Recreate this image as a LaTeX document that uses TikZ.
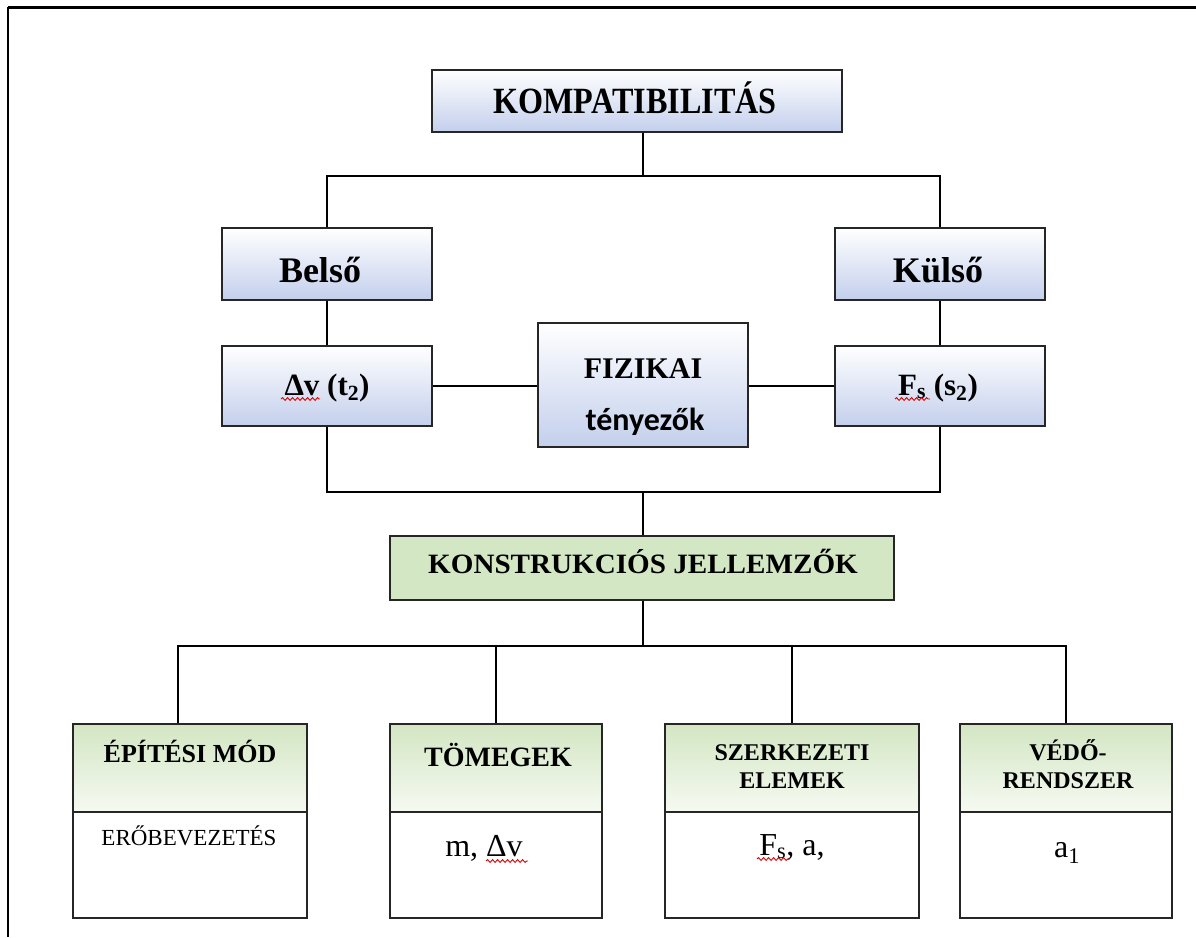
\documentclass[tikz,border=0pt]{standalone}
\usepackage{fontspec}
\setmainfont{Liberation Serif}
\newfontfamily\carl{Carlito}
\usepackage{graphicx}
\usetikzlibrary{decorations.pathmorphing}
\definecolor{bluebot}{HTML}{C3CFEC}
\definecolor{greentop}{HTML}{D3E6C3}
\definecolor{greenfill}{HTML}{D4E7C5}
\definecolor{greenbot}{HTML}{F6FAF2}
\definecolor{edge}{HTML}{262626}
\newcommand\fsz[2]{\fontsize{#1}{#2}\selectfont}
\begin{document}
\begin{tikzpicture}[x=1pt,y=-1pt,
  box/.style={draw=edge, line width=2pt, inner sep=0pt},
  bluebox/.style={box, top color=white, bottom color=bluebot},
  greenhead/.style={box, top color=greentop, bottom color=greenbot},
  greensolid/.style={box, fill=greenfill},
  whitebox/.style={box, fill=white},
  txt/.style={inner sep=0pt, anchor=base, align=center, font=\bfseries},
  plain/.style={inner sep=0pt, anchor=base, align=center},
  conn/.style={draw=black, line width=2pt},
  squig/.style={draw=red!85!black, line width=0.9pt, decorate,
    decoration={snake, segment length=5pt, amplitude=1.4pt}}]
\useasboundingbox (0,0) rectangle (1196,937);
% frame
\draw[line width=3pt] (8,7.5) -- (1196,7.5);
\draw[line width=2pt] (8,7) -- (8,937);

% top boxes
\node[bluebox, minimum width=410, minimum height=62] (kompat) at (637,101) {};
\node[txt] (tkompat) at (635,113) {\fsz{37}{40}\scalebox{0.87}[1]{KOMPATIBILITÁS}};

\node[bluebox, minimum width=210, minimum height=72] (belso) at (327,264) {};
\node[txt] (tbelso) at (320,282) {\fsz{36}{40}Belső};
\node[bluebox, minimum width=210, minimum height=72] (kulso) at (940,264) {};
\node[txt] (tkulso) at (938,282) {\fsz{36}{40}Külső};

\node[bluebox, minimum width=210, minimum height=80] (dv) at (327,386) {};
\node[txt] (tdv) at (327,395) {\fsz{31}{36}Δv (t\textsubscript{2})};
\node[bluebox, minimum width=210, minimum height=80] (fs) at (940,386) {};
\node[txt] (tfs) at (938,395) {\fsz{31}{36}F\textsubscript{s} (s\textsubscript{2})};

\node[bluebox, minimum width=210, minimum height=124] (fiz) at (643,385) {};
\node[txt] (tfiz1) at (643,378) {\fsz{30}{36}FIZIKAI};
\node[txt] (tfiz2) at (645,430) {\carl\fsz{32}{36}tényezők};

\node[greensolid, minimum width=504, minimum height=64] (konst) at (642,568) {};
\node[txt] (tkonst) at (643,573) {\fsz{28}{32}\scalebox{1.04}[1]{KONSTRUKCIÓS JELLEMZŐK}};

% bottom boxes
\node[greenhead, minimum width=234, minimum height=88] (epites) at (190,768) {};
\node[whitebox, minimum width=234, minimum height=106] (epitesc) at (190,865) {};
\node[txt, font=\bfseries\fsz{26}{30}] (tepites) at (190,762) {ÉPÍTÉSI MÓD};
\node[plain, font=\fsz{23}{28}] (tepitesc) at (189,845) {ERŐBEVEZETÉS};

\node[greenhead, minimum width=212, minimum height=88] (tomeg) at (496,768) {};
\node[whitebox, minimum width=212, minimum height=106] (tomegc) at (496,865) {};
\node[txt, font=\bfseries\fsz{28}{30}] (ttomeg) at (498,766) {TÖMEGEK};
\node[plain, font=\fsz{32}{36}] (ttomegc) at (484,856) {m, Δv};

\node[greenhead, minimum width=254, minimum height=88] (szerk) at (792,768) {};
\node[whitebox, minimum width=254, minimum height=106] (szerkc) at (792,865) {};
\node[txt, font=\bfseries\fsz{24}{28}] (tszerk) at (792,788) {SZERKEZETI\\ELEMEK};
\node[plain, font=\fsz{32}{36}] (tszerkc) at (792,855) {F\textsubscript{s}, a,};

\node[greenhead, minimum width=212, minimum height=88] (vedo) at (1066,768) {};
\node[whitebox, minimum width=212, minimum height=106] (vedoc) at (1066,865) {};
\node[txt, font=\bfseries\fsz{24}{28}] (tvedo) at (1068,788) {VÉDŐ-\\RENDSZER};
\node[plain, font=\fsz{32}{36}] (tvedoc) at (1067,857) {a\textsubscript{1}};

% connectors
\coordinate (j1) at (643,176);
\coordinate (j2) at (643,492);
\coordinate (j3) at (643,646);
\draw[conn] (kompat.south -| j1) -- (j1);
\draw[conn] (belso.north) |- (j1) -| (kulso.north);
\draw[conn] (belso.south) -- (dv.north);
\draw[conn] (kulso.south) -- (fs.north);
\draw[conn] (dv.east) -- (dv.east -| fiz.west);
\draw[conn] (fs.west) -- (fs.west -| fiz.east);
\draw[conn] (dv.south) |- (j2) -| (fs.south);
\draw[conn] (j2) -- (konst.north -| j2);
\draw[conn] (konst.south -| j3) -- (j3);
\draw[conn] ([xshift=-12pt]epites.north) |- (j3) -| (vedo.north);
\draw[conn] (tomeg.north) -- (tomeg.north |- j3);
\draw[conn] (szerk.north) -- (szerk.north |- j3);

% spell-check squiggles
\draw[squig] (281,399) -- (320,399);
\draw[squig] (895,399) -- (930,399);
\draw[squig] (486,861) -- (528,861);
\draw[squig] (757,859) -- (790,859);
\end{tikzpicture}
\end{document}
